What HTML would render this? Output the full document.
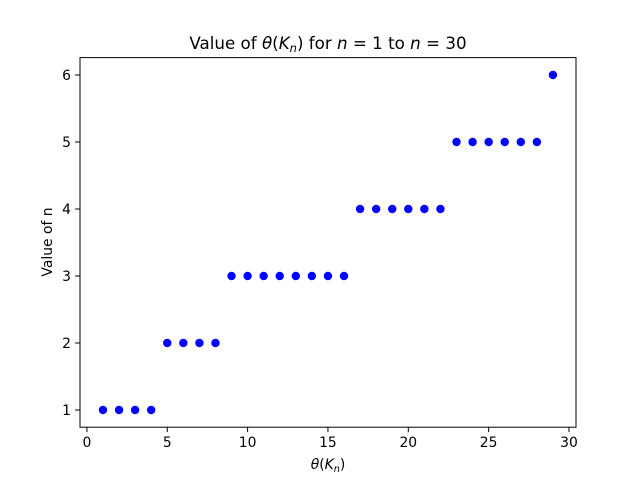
<!DOCTYPE html>
<html><head><meta charset="utf-8"><style>
body{margin:0;background:#fff;}
svg{display:block;font-family:"DejaVu Sans","Liberation Sans",sans-serif;}
</style></head><body>
<svg id="chart" width="640" height="480" viewBox="0 0 640 480">
<rect width="640" height="480" fill="#fff"/>
<text x="328" y="49" text-anchor="middle" font-size="16.7">Value of <tspan font-style="italic">θ</tspan>(<tspan font-style="italic">K</tspan><tspan font-style="italic" font-size="11.5" dy="3">n</tspan><tspan dy="-3">) for </tspan><tspan font-style="italic">n</tspan><tspan> = 1 to </tspan><tspan font-style="italic">n</tspan><tspan> = 30</tspan></text>
<g id="ticks"></g>
<g id="points"></g>
<rect x="80" y="57.6" width="496" height="369.6" fill="none" stroke="#000" stroke-width="1"/>
<text x="328" y="469" text-anchor="middle" font-size="13.9"><tspan font-style="italic">θ</tspan>(<tspan font-style="italic">K</tspan><tspan font-style="italic" font-size="9.7" dy="3">n</tspan><tspan dy="-3">)</tspan></text>
<text x="52" y="242" text-anchor="middle" font-size="13.9" transform="rotate(-90 52 242)">Value of n</text>
</svg>
<script>
const xValues=[1,2,3,4,5,6,7,8,9,10,11,12,13,14,15,16,17,18,19,20,21,22,23,24,25,26,27,28,29];
const yValues=[1,1,1,1,2,2,2,2,3,3,3,3,3,3,3,3,4,4,4,4,4,4,5,5,5,5,5,5,6];
const xTicks=[0,5,10,15,20,25,30];
const yTicks=[1,2,3,4,5,6];
const NS="http://www.w3.org/2000/svg";
function sx(v){return 86.9+v*16.07;}
function sy(v){return 477-v*67;}
const pts=document.getElementById('points');
xValues.forEach((x,i)=>{
  const c=document.createElementNS(NS,'circle');
  c.setAttribute('cx',sx(x));c.setAttribute('cy',sy(yValues[i]));c.setAttribute('r',4.2);c.setAttribute('fill','#0000ff');
  
  
  pts.appendChild(c);
});
const tk=document.getElementById('ticks');
function mk(tag,attrs,txt){const e=document.createElementNS(NS,tag);for(const k in attrs)e.setAttribute(k,attrs[k]);if(txt!==undefined)e.textContent=txt;tk.appendChild(e);return e;}
xTicks.forEach(t=>{
  const l=mk('line',{x1:sx(t),x2:sx(t),y1:427.2,y2:432.1,stroke:'#000'});
  
  
  const tx=mk('text',{x:sx(t),y:447,'text-anchor':'middle','font-size':13.9},String(t));
  
  
});
yTicks.forEach(t=>{
  const l=mk('line',{x1:75.1,x2:80,y1:sy(t),y2:sy(t),stroke:'#000'});
  
  
  const tx=mk('text',{x:71,y:sy(t)+5,'text-anchor':'end','font-size':13.9},String(t));
  
  
});
</script>
</body></html>
